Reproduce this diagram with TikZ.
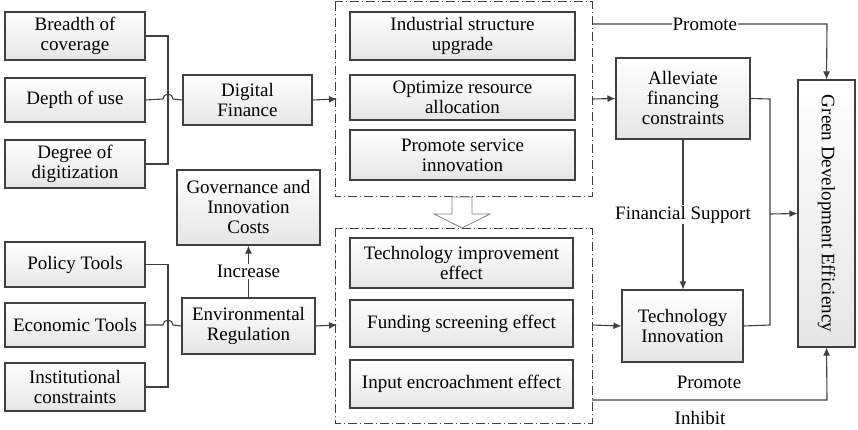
\documentclass[tikz,border=0pt]{standalone}
\usepackage{fontspec}
\setmainfont{Liberation Serif}
\usetikzlibrary{arrows.meta}
\begin{document}
\begin{tikzpicture}[x=1pt,y=-1pt,
  bx/.style={draw=black!75,line width=1.1pt,top color=white,bottom color=gray!20,align=center,inner sep=0pt,font=\fontsize{19}{20}\selectfont},
  ln/.style={draw=black!75,line width=1.1pt},
  ar/.style={ln,-{Latex[length=8pt,width=7pt]}},
  grp/.style={draw=black!75,line width=1pt,dash pattern=on 9pt off 3pt on 1pt off 3pt},
  lbl/.style={font=\fontsize{19}{20}\selectfont,inner sep=1pt}]
\useasboundingbox (0,0) rectangle (858,430);
\newcommand\bxat[6]{\node[bx,minimum width=#4-#2,minimum height=#5-#3] (#1) at ({(#2+#4)/2},{(#3+#5)/2}) {#6};}
\bxat{b1}{5}{12}{145}{60}{Breadth of\\coverage}
\bxat{b2}{5}{78}{145}{122}{Depth of use}
\bxat{b3}{5}{140}{145}{188}{Degree of\\digitization}
\bxat{df}{183}{75}{312}{125}{Digital\\Finance}
\bxat{p1}{5}{242}{145}{287}{Policy Tools}
\bxat{p2}{5}{303}{145}{347}{Economic Tools}
\bxat{p3}{5}{363}{145}{411}{Institutional\\constraints}
\bxat{er}{182}{298}{315}{354}{Environmental\\Regulation}
\bxat{gov}{177}{170}{320}{245}{Governance and\\Innovation\\Costs}
\draw[grp] (335,2) rectangle (592,197);
\draw[grp] (335,228) rectangle (592,423);
\coordinate (g1e) at (592,99);
\coordinate (g1w) at (337,99);
\coordinate (g1t) at (592,24);
\coordinate (g2w) at (337,325);
\coordinate (g2e) at (592,325);
\coordinate (g2b) at (592,400);
\bxat{m1}{350}{12}{575}{60}{Industrial structure\\upgrade}
\bxat{m2}{350}{75}{575}{120}{Optimize resource\\allocation}
\bxat{m3}{350}{130}{575}{180}{Promote service\\innovation}
\bxat{e1}{350}{238}{573}{288}{Technology improvement\\effect}
\bxat{e2}{350}{300}{573}{347}{Funding screening effect}
\bxat{e3}{350}{360}{573}{408}{Input encroachment effect}
\bxat{al}{616}{58}{750}{139}{Alleviate\\financing\\constraints}
\bxat{ti}{622}{290}{743}{362}{Technology\\Innovation}
\node[bx,minimum width=57,minimum height=267] (gd) at (826.5,213.5) {};
\node[lbl,rotate=-90] at (gd.center) {Green Development Efficiency};
% hollow arrow
\draw[draw=black!50,fill=white,line width=0.7pt] (452,197) -- (472,197) -- (472,214) -- (490,214) -- (462,228) -- (434,214) -- (452,214) -- cycle;
% brackets
\draw[ln] (b1.east) -| (168,164) -- (b3.east);
\draw[ln] (b2.east) -- (163,99) arc[start angle=180,end angle=360,radius=5] -- (df.west);
\draw[ln] (p1.east) -| (168,387) -- (p3.east);
\draw[ln] (p2.east) -- (163,325) arc[start angle=180,end angle=360,radius=5] -- (er.west);
\draw[ar] (df.east) -- (g1w);
\draw[ar] (er.east) -- (g2w);
\draw[ar] (er.north) -- node[lbl,fill=white]{Increase} (gov.south);
\draw[ar] (g1e) -- (al.west);
\draw[ar] (g2e) -- (ti.west);
\draw[ar] (g1t) -- node[lbl,fill=white,pos=0.48]{Promote} (827,24) -- (gd.north);
\draw[ar] (al.south) -- node[lbl,fill=white]{Financial Support} (ti.north -| al.south);
\draw[ln] (al.east) -- (770,99) -- (770,325) -- (ti.east);
\draw[ar] (770,214) -- (gd.west);
\draw[ar] (g2b) -- (827,400) -- (gd.south);
\node[lbl] at (709,382) {Promote};
\node[lbl] at (700,418) {Inhibit};
\end{tikzpicture}
\end{document}
